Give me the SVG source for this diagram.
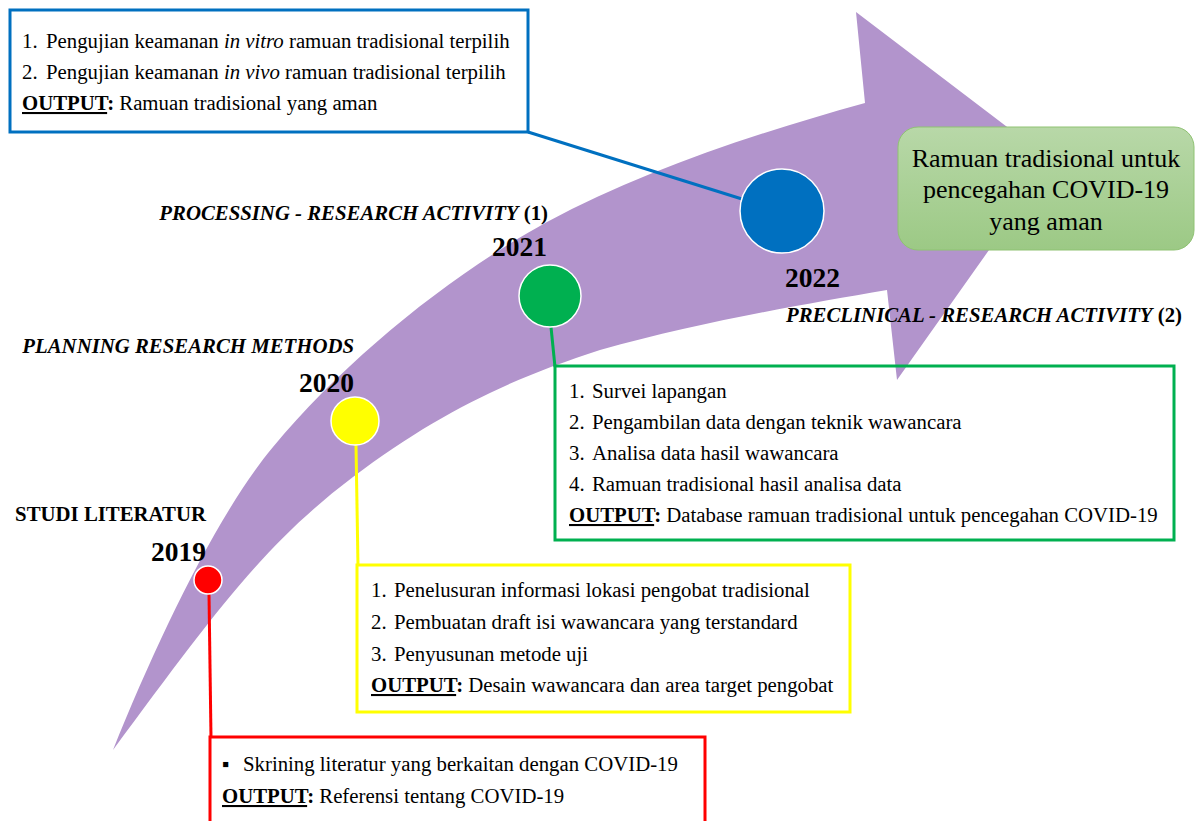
<svg xmlns="http://www.w3.org/2000/svg" width="1197" height="821" viewBox="0 0 1197 821">
<style>
.t{font-family:"Liberation Serif","Times New Roman",serif;font-size:20.8px;fill:#000}
.yr{font-family:"Liberation Serif","Times New Roman",serif;font-size:27.5px;font-weight:bold;fill:#000}
.ttl{font-family:"Liberation Serif","Times New Roman",serif;font-size:20.8px;font-weight:bold;font-style:italic;fill:#000}
.out{font-weight:bold;text-decoration:underline}
.i{font-style:italic}
.box{fill:none;stroke-width:3}
.dot{stroke:#fff;stroke-width:1.5}
.res{font-family:"Liberation Serif","Times New Roman",serif;font-size:26px;fill:#000}
</style>
<defs>
<linearGradient id="gg" x1="0" y1="0" x2="0" y2="1">
<stop offset="0" stop-color="#B8D8A8"/>
<stop offset="1" stop-color="#9CC985"/>
</linearGradient>
</defs>
<rect width="1197" height="821" fill="#fff"/>
<g id="arrow">
<path d="M113,750 C158,638 218,513 273,447 C348,357 452,274 547,222 C640,172 750,135 865,103 L856,12 L1052,161 L897,380 L887,290 C800,305 700,322 600,350 C510,379 438,413 353,477 C263,545 213,615 113,750 Z" fill="#B294CC"/>
</g>
<g id="connectors" fill="none" stroke-width="3">
<line x1="528" y1="132" x2="742" y2="199" stroke="#0070C0"/>
<line x1="551" y1="327" x2="555" y2="367" stroke="#00B050"/>
<line x1="356" y1="445" x2="358" y2="566" stroke="#FFFF00"/>
<line x1="209" y1="594" x2="211" y2="738" stroke="#FF0000"/>
</g>
<g id="n2019">
<circle cx="208" cy="580" r="14" fill="#FF0000" class="dot"/>
<text class="yr" x="206" y="561" text-anchor="end">2019</text>
<text x="206" y="521" text-anchor="end" style="font-family:'Liberation Serif','Times New Roman',serif;font-size:20.8px;font-weight:bold">STUDI LITERATUR</text>
</g>
<g id="n2020">
<circle cx="355" cy="421" r="24" fill="#FFFF00" class="dot"/>
<text class="yr" x="354" y="392" text-anchor="end">2020</text>
<text class="ttl" x="354" y="353" text-anchor="end">PLANNING RESEARCH METHODS</text>
</g>
<g id="n2021">
<circle cx="550" cy="296" r="31" fill="#00B050" class="dot"/>
<text class="yr" x="547" y="256" text-anchor="end">2021</text>
<text class="ttl" x="548" y="220" text-anchor="end">PROCESSING - RESEARCH ACTIVITY<tspan font-style="normal"> (1)</tspan></text>
</g>
<g id="n2022">
<circle cx="782" cy="211" r="42" fill="#0070C0" class="dot"/>
<text class="yr" x="840" y="287" text-anchor="end">2022</text>
<text class="ttl" x="1182" y="322" text-anchor="end">PRECLINICAL - RESEARCH ACTIVITY<tspan font-style="normal"> (2)</tspan></text>
</g>
<g id="box2022">
<rect x="10" y="10" width="518" height="122" stroke="#0070C0" class="box"/>
<text class="t" x="22" y="48">1.<tspan x="46">Pengujian keamanan </tspan><tspan class="i">in vitro</tspan> ramuan tradisional terpilih</text>
<text class="t" x="22" y="79">2.<tspan x="46">Pengujian keamanan </tspan><tspan class="i">in vivo</tspan> ramuan tradisional terpilih</text>
<text class="t" x="22" y="110"><tspan class="out">OUTPUT</tspan><tspan font-weight="bold">:</tspan> Ramuan tradisional yang aman</text>
</g>
<g id="box2021">
<rect x="555" y="366" width="619" height="174" stroke="#00B050" class="box"/>
<text class="t" x="569" y="398">1.<tspan x="592">Survei lapangan</tspan></text>
<text class="t" x="569" y="429">2.<tspan x="592">Pengambilan data dengan teknik wawancara</tspan></text>
<text class="t" x="569" y="460">3.<tspan x="592">Analisa data hasil wawancara</tspan></text>
<text class="t" x="569" y="491">4.<tspan x="592">Ramuan tradisional hasil analisa data</tspan></text>
<text class="t" x="569" y="522"><tspan class="out">OUTPUT</tspan><tspan font-weight="bold">:</tspan> Database ramuan tradisional untuk pencegahan COVID-19</text>
</g>
<g id="box2020">
<rect x="357" y="565" width="493" height="147" stroke="#FFFF00" class="box"/>
<text class="t" x="371" y="597">1.<tspan x="394">Penelusuran informasi lokasi pengobat tradisional</tspan></text>
<text class="t" x="371" y="629">2.<tspan x="394">Pembuatan draft isi wawancara yang terstandard</tspan></text>
<text class="t" x="371" y="661">3.<tspan x="394">Penyusunan metode uji</tspan></text>
<text class="t" x="371" y="692"><tspan class="out">OUTPUT</tspan><tspan font-weight="bold">:</tspan> Desain wawancara dan area target pengobat</text>
</g>
<g id="box2019">
<rect x="210" y="737" width="495" height="100" stroke="#FF0000" class="box"/>
<text class="t" x="222" y="771">▪<tspan x="243">Skrining literatur yang berkaitan dengan COVID-19</tspan></text>
<text class="t" x="222" y="803"><tspan class="out">OUTPUT</tspan><tspan font-weight="bold">:</tspan> Referensi tentang COVID-19</text>
</g>
<g id="result">
<rect x="898" y="127" width="296" height="123" rx="20" fill="url(#gg)" stroke="#8FC273" stroke-width="1"/>
<text class="res" x="1046" y="167" text-anchor="middle">Ramuan tradisional untuk</text>
<text class="res" x="1046" y="198" text-anchor="middle">pencegahan COVID-19</text>
<text class="res" x="1046" y="230" text-anchor="middle">yang aman</text>
</g>
</svg>
